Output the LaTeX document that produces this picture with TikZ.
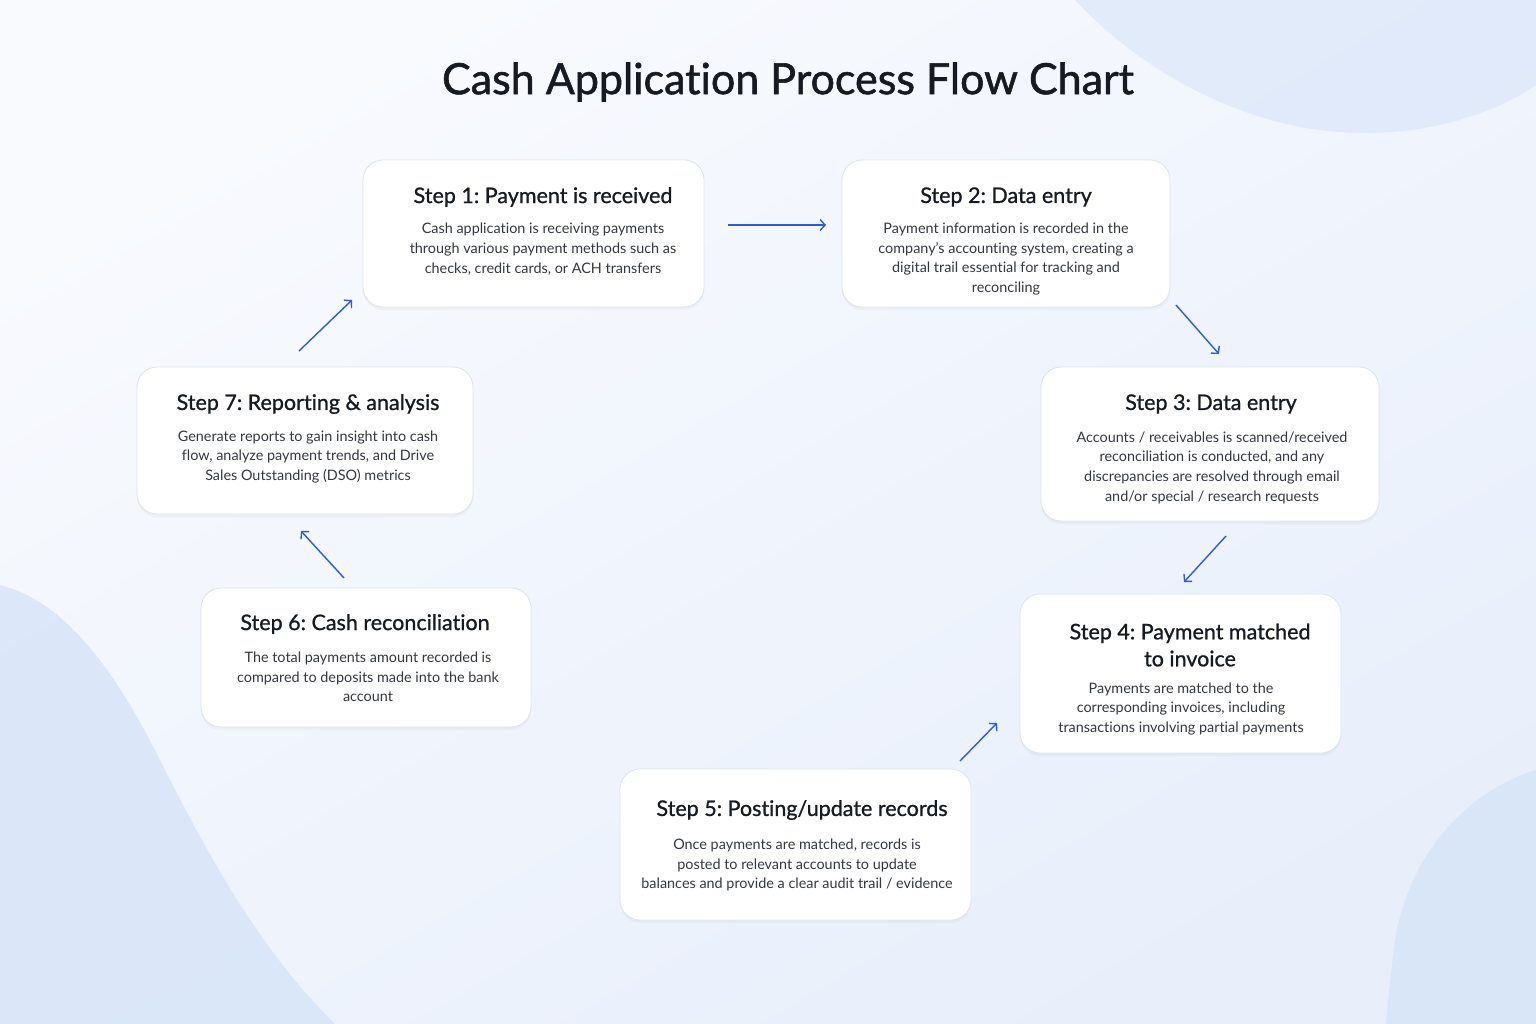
\documentclass[tikz,border=0pt]{standalone}
\usepackage{fontspec}
\setmainfont{Lato}[Ligatures={NoCommon}]
\newfontfamily\medfont{Lato}[Ligatures={NoCommon},FakeBold=0.9]
\newfontfamily\headfont{Lato}[Ligatures={NoCommon},FakeBold=1.3]
\usetikzlibrary{arrows.meta,shadows}
\definecolor{bgA}{RGB}{248,250,254}
\definecolor{bgB}{RGB}{232,239,251}
\definecolor{blob}{RGB}{214,228,248}
\definecolor{boxline}{RGB}{220,227,238}
\definecolor{ink}{RGB}{22,26,34}
\definecolor{bodyink}{RGB}{52,56,64}
\definecolor{arrowblue}{RGB}{44,92,214}
\tikzset{
  stepbox/.style={draw=boxline, line width=0.8pt, fill=white, rounded corners=20pt,
    drop shadow={opacity=0.06, shadow xshift=0pt, shadow yshift=-3pt}},
  steptitle/.style={text=ink, font=\medfont\fontsize{21.5}{27}\selectfont, align=center, inner sep=0pt},
  stepbody/.style={text=bodyink, font=\fontsize{14.4}{19.7}\selectfont, align=center, inner sep=0pt},
  flow/.style={draw=arrowblue, line width=1.4pt, -{Straight Barb[length=5pt,width=11pt]}},
}
\frenchspacing
\begin{document}
\begin{tikzpicture}[x=1pt,y=-1pt]
\useasboundingbox (0,0) rectangle (1536,1024);
% background
\shade[top color=bgA, bottom color=bgB, shading angle=30] (0,0) rectangle (1536,1024);
\fill[blob, opacity=0.6] (1075,0) .. controls (1150,80) and (1260,135) .. (1370,133)
  .. controls (1440,132) and (1500,110) .. (1536,85) -- (1536,0) -- cycle;
\fill[blob, opacity=0.8] (0,585) .. controls (60,600) and (110,660) .. (160,760)
  .. controls (220,880) and (270,960) .. (335,1024) -- (0,1024) -- cycle;
\fill[blob, opacity=0.8] (1536,770) .. controls (1470,790) and (1410,850) .. (1395,940)
  .. controls (1390,980) and (1388,1000) .. (1386,1024) -- (1536,1024) -- cycle;
% title
\node[text=ink, font=\headfont\fontsize{43}{48}\selectfont, inner sep=0pt] (title) at (788,82) {Cash Application Process Flow Chart};
% boxes
\node[stepbox, minimum width=341pt, minimum height=147pt] (s1) at (533.5,233.5) {};
\node[stepbox, minimum width=328pt, minimum height=147pt] (s2) at (1006,233.5) {};
\node[stepbox, minimum width=338pt, minimum height=154pt] (s3) at (1210,444) {};
\node[stepbox, minimum width=321pt, minimum height=159pt] (s4) at (1180.5,673.5) {};
\node[stepbox, minimum width=351pt, minimum height=151pt] (s5) at (795.5,844.5) {};
\node[stepbox, minimum width=330pt, minimum height=139pt] (s6) at (366,657.5) {};
\node[stepbox, minimum width=336pt, minimum height=147pt] (s7) at (305,440.5) {};
% texts
\node[steptitle] (t1) at (543,197) {Step 1: Payment is received};
\node[stepbody] (b1) at (543,249) {Cash application is receiving payments\\through various payment methods such as\\checks, credit cards, or ACH transfers};
\node[steptitle] (t2) at (1006,197) {Step 2: Data entry};
\node[stepbody] (b2) at (1006,259) {Payment information is recorded in the\\company's accounting system, creating a\\digital trail essential for tracking and\\reconciling};
\node[steptitle] (t3) at (1211,404) {Step 3: Data entry};
\node[stepbody] (b3) at (1212,467.5) {Accounts / receivables is scanned/received\\reconciliation is conducted, and any\\discrepancies are resolved through email\\and/or special / research requests};
\node[steptitle] (t4) at (1190,645) {Step 4: Payment matched\\to invoice};
\node[stepbody] (b4) at (1181,709) {Payments are matched to the\\corresponding invoices, including\\transactions involving partial payments};
\node[steptitle] (t5) at (802,810) {Step 5: Posting/update records};
\node[stepbody] (b5) at (797,865) {Once payments are matched, records is\\posted to relevant accounts to update\\balances and provide a clear audit trail / evidence};
\node[steptitle] (t6) at (365,624) {Step 6: Cash reconciliation};
\node[stepbody] (b6) at (368,677) {The total payments amount recorded is\\compared to deposits made into the bank\\account};
\node[steptitle] (t7) at (308,404) {Step 7: Reporting \& analysis};
\node[stepbody] (b7) at (308,457) {Generate reports to gain insight into cash\\flow, analyze payment trends, and Drive\\Sales Outstanding (DSO) metrics};
% connectors
\coordinate (a12s) at (728,225); \coordinate (a12e) at (826,225);
\coordinate (a23s) at (1176,305); \coordinate (a23e) at (1219,354);
\coordinate (a34s) at (1226,536); \coordinate (a34e) at (1184,582);
\coordinate (a54s) at (960,761); \coordinate (a54e) at (997,723);
\coordinate (a67s) at (344,578); \coordinate (a67e) at (301,531);
\coordinate (a71s) at (299,351); \coordinate (a71e) at (352,300);
\draw[flow] (a12s) -- (a12e);
\draw[flow] (a23s) -- (a23e);
\draw[flow] (a34s) -- (a34e);
\draw[flow] (a54s) -- (a54e);
\draw[flow] (a67s) -- (a67e);
\draw[flow] (a71s) -- (a71e);
\end{tikzpicture}
\end{document}
